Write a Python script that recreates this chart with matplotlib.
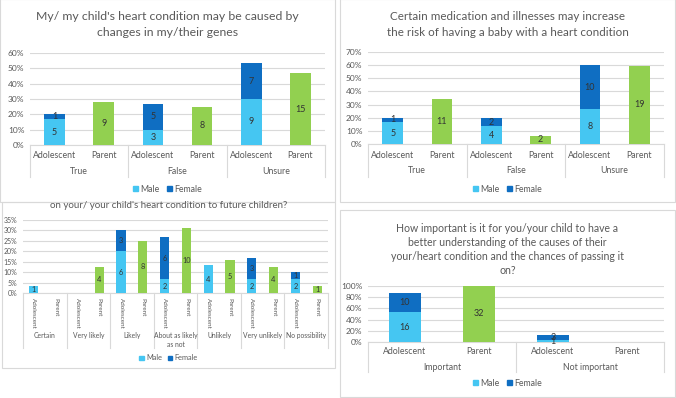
import numpy as np
import matplotlib
matplotlib.use("Agg")
import matplotlib.pyplot as plt
import matplotlib.transforms as mtrans
from matplotlib.patches import Rectangle, Patch
from matplotlib.ticker import FuncFormatter

plt.rcParams['font.family'] = ['Lato', 'DejaVu Sans']

W, H = 676, 398

# group sizes
n_adolescent = 30
n_parent = 32

# panel 1
groups1 = ["True", "False", "Unsure"]
p1_male = [5, 3, 9]
p1_female = [1, 5, 7]
p1_parent = [9, 8, 15]

# panel 2
groups2 = ["True", "False", "Unsure"]
p2_male = [5, 4, 8]
p2_female = [1, 2, 10]
p2_parent = [11, 2, 19]

# panel 3
groups3 = ["Certain", "Very likely", "Likely", "About as likely\nas not",
           "Unlikely", "Very unlikely", "No possibility"]
p3_male = [1, 0, 6, 2, 4, 2, 2]
p3_female = [0, 0, 3, 6, 0, 3, 1]
p3_parent = [0, 4, 8, 10, 5, 4, 1]

# panel 4
groups4 = ["Important", "Not important"]
p4_male = [16, 1]
p4_female = [10, 3]
p4_parent = [32, 0]

sub_labels = ["Adolescent", "Parent"]

c_male = "#45C6F2"
c_female = "#0F6EC2"
c_parent = "#92D050"
c_grid = "#D9D9D9"
c_text = "#595959"
c_lab = "#333333"

fig = plt.figure(figsize=(W / 100, H / 100), dpi=100)


def fy(y):
    return 1 - y / H


def fx(x):
    return x / W


def panel(box, plot, title, title_y, title_size, groups, male, female, parent,
          ymax, ystep, sub_y, grp_y, sep_y, leg_y, rotate=False):
    bx0, by0, bx1, by1 = box
    fig.patches.append(Rectangle((fx(bx0), fy(by1)), fx(bx1 - bx0), (by1 - by0) / H,
                                 transform=fig.transFigure, facecolor="none",
                                 edgecolor=c_grid, lw=0.8))
    cx = (bx0 + bx1) / 2
    for line, ty in zip(title, title_y):
        fig.text(fx(cx), fy(ty), line, ha="center", va="center",
                 fontsize=title_size, color=c_text)

    x0, y0, x1, y1 = plot
    ax = fig.add_axes([fx(x0), fy(y1), fx(x1 - x0), (y1 - y0) / H])
    ax.patch.set_alpha(0)
    n = len(groups)
    xa = np.arange(n) * 2
    xp = xa + 1
    m = np.array(male) / n_adolescent * 100
    f = np.array(female) / n_adolescent * 100
    p = np.array(parent) / n_parent * 100
    bw = 0.42
    ax.bar(xa, m, bw, color=c_male, zorder=3)
    ax.bar(xa, f, bw, bottom=m, color=c_female, zorder=3)
    ax.bar(xp, p, bw, color=c_parent, zorder=3)
    fs = 5.3 if rotate else 6.5
    for i in range(n):
        if male[i]:
            ax.text(xa[i], m[i] / 2, str(male[i]), ha="center", va="center",
                    fontsize=fs, color=c_lab, zorder=4)
        if female[i]:
            ax.text(xa[i], m[i] + f[i] / 2, str(female[i]), ha="center", va="center",
                    fontsize=fs, color=c_lab, zorder=4)
        if parent[i]:
            ax.text(xp[i], p[i] / 2, str(parent[i]), ha="center", va="center",
                    fontsize=fs, color=c_lab, zorder=4)

    ax.set_xlim(-0.5, 2 * n - 0.5)
    ax.set_ylim(0, ymax)
    ax.set_yticks(np.arange(0, ymax + 0.1, ystep))
    ax.yaxis.set_major_formatter(FuncFormatter(lambda v, _: f"{v:.0f}%"))
    ax.tick_params(axis="y", length=0, labelsize=5 if rotate else 6,
                   labelcolor=c_text, pad=4)
    ax.set_xticks([])
    ax.grid(axis="y", color=c_grid, lw=0.8, zorder=0)
    for s in ["top", "right", "left"]:
        ax.spines[s].set_visible(False)
    ax.spines["bottom"].set_color(c_grid)
    ax.spines["bottom"].set_linewidth(0.8)

    tr = mtrans.blended_transform_factory(ax.transData, fig.transFigure)
    for i in range(n):
        for j, lab in enumerate(sub_labels):
            if rotate:
                ax.text(2 * i + j, fy(sub_y), lab, transform=tr, ha="center", va="top",
                        rotation=-90, fontsize=4.5, color=c_text)
            else:
                ax.text(2 * i + j, fy(sub_y), lab, transform=tr, ha="center",
                        va="center", fontsize=6.3, color=c_text)
        ax.text(2 * i + 0.5, fy(grp_y), groups[i], transform=tr, ha="center",
                va="top" if rotate else "center", fontsize=4.9 if rotate else 6.3,
                color=c_text, linespacing=1.4)
    for k in range(n + 1):
        ax.plot([2 * k - 0.5, 2 * k - 0.5], [fy(y1), fy(sep_y)], transform=tr,
                color=c_grid, lw=0.8, clip_on=False)

    handles = [Patch(color=c_male, label="Male"), Patch(color=c_female, label="Female")]
    fig.legend(handles=handles, loc="center", bbox_to_anchor=(fx(cx), fy(leg_y)),
               ncol=2, frameon=False, fontsize=5.3 if rotate else 6.3,
               handlelength=0.6, handleheight=0.6, handletextpad=0.3,
               columnspacing=0.8, labelcolor=c_text)
    return ax


panel((0, -1, 335, 202), (30, 53, 325, 145),
      ["My/ my child's heart condition may be caused by", "changes in my/their genes"],
      [17, 33], 8.8, groups1, p1_male, p1_female, p1_parent, 60, 10,
      156, 172, 177, 189)

panel((340, -1, 675, 202), (368, 52, 664, 144),
      ["Certain medication and illnesses may increase",
       "the risk of having a baby with a heart condition"],
      [17, 33], 8.4, groups2, p2_male, p2_female, p2_parent, 70, 10,
      155, 171, 177, 189)

panel((2, 202, 335, 368), (23, 220, 328, 293),
      ["on your/ your child's heart condition to future children?"],
      [206], 7, groups3, p3_male, p3_female, p3_parent, 35, 5,
      298, 332, 348, 358, rotate=True)

panel((340, 210, 675, 397), (368, 286, 664, 342),
      ["How important is it for you/your child to have a",
       "better understanding of the causes of their",
       "your/heart condition and the chances of passing it", "on?"],
      [228, 242, 257, 271], 7.6, groups4, p4_male, p4_female, p4_parent, 100, 20,
      352, 367, 372, 383)

fig.savefig("out.png", dpi=100)
